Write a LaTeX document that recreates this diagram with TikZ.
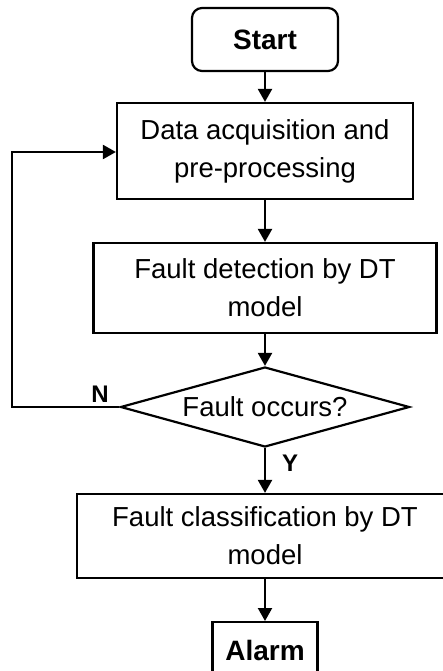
\documentclass[tikz,border=0pt]{standalone}
\usepackage{fontspec}
\setmainfont{Liberation Sans}
\usetikzlibrary{arrows.meta,shapes.geometric}
\begin{document}
\begin{tikzpicture}[x=1pt,y=-1pt,
  every node/.style={font=\fontsize{27.5}{38}\selectfont},
  box/.style={draw,line width=2.2pt,rectangle,inner sep=0pt,align=center},
  decision/.style={draw,line width=2.2pt,diamond,aspect=3.6,inner sep=0pt,minimum width=289pt,minimum height=80pt,align=center},
  flow/.style={line width=2.2pt,-{Triangle[width=14pt,length=13pt]}},
  bold/.style={font=\fontsize{28}{38}\selectfont\bfseries},
  lab/.style={font=\fontsize{24}{28}\selectfont\bfseries,inner sep=0pt}]
\useasboundingbox (0,0) rectangle (443,671);
\clip (0,0) rectangle (443,671);
\node[box,rounded corners=10pt,minimum width=146pt,minimum height=63pt,bold] (start) at (265,39.5) {Start};
\node[box,minimum width=296pt,minimum height=96pt] (data) at (265,151) {Data acquisition and\\pre-processing};
\node[box,minimum width=343pt,minimum height=90pt] (detect) at (265,288) {Fault detection by DT\\model};
\node[decision] (dec) at (265,407) {Fault occurs?};
\node[box,minimum width=376pt,minimum height=84pt] (class) at (265,536) {Fault classification by DT\\model};
\node[box,minimum width=105pt,minimum height=56pt,bold,anchor=north] (alarm) at (265,621) {\raisebox{-6pt}{Alarm}};
\coordinate (c1) at (12,407);
\coordinate (c2) at (12,152);
\draw[flow] (start) -- (data);
\draw[flow] (data) -- (detect);
\draw[flow] (detect) -- (dec.north);
\draw[flow] (dec.south) -- (class);
\draw[flow] (class) -- (alarm);
\draw[flow] (dec.west) -- (c1) -- (c2) -- (data.west |- c2);
\node[lab] (nlab) at (100,394) {N};
\node[lab] (ylab) at (290,463) {Y};
\end{tikzpicture}
\end{document}
